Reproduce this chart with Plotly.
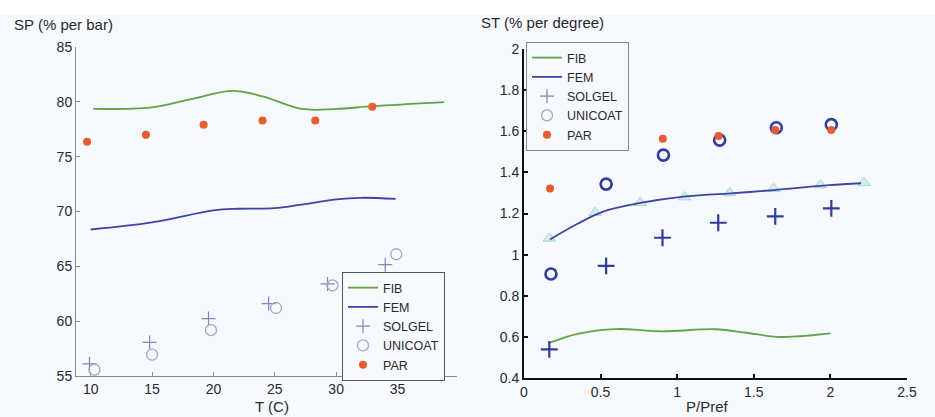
import plotly.graph_objects as go

W, H = 935, 417

# ---- Left panel: sensitivity to pressure vs temperature ----
sp_fib_t = [10.2, 15, 18, 21.6, 24, 27.2, 30, 33, 38.8]
sp_fib = [79.35, 79.5, 80.2, 81.0, 80.5, 79.35, 79.35, 79.6, 79.97]
sp_fem_t = [10.0, 15, 20, 22, 25, 27, 30, 32, 34.85]
sp_fem = [68.36, 69.0, 70.1, 70.25, 70.3, 70.6, 71.1, 71.25, 71.15]
sp_solgel_t = [9.9, 14.8, 19.6, 24.5, 29.3, 34.0]
sp_solgel = [56.1, 58.06, 60.24, 61.6, 63.4, 65.15]
sp_unicoat_t = [10.3, 15.0, 19.8, 25.1, 29.7, 34.9]
sp_unicoat = [55.57, 56.94, 59.18, 61.2, 63.27, 66.1]
sp_par_t = [9.7, 14.5, 19.2, 24.0, 28.3, 32.95]
sp_par = [76.36, 77.0, 77.9, 78.3, 78.3, 79.55]

# ---- Right panel: sensitivity to temperature vs normalised pressure ----
st_fib_p = [0.17, 0.35, 0.6, 0.9, 1.25, 1.45, 1.65, 1.8, 2.0]
st_fib = [0.572, 0.615, 0.638, 0.627, 0.637, 0.62, 0.60, 0.603, 0.617]
st_fem_p = [0.17, 0.35, 0.52, 0.75, 1.04, 1.35, 1.63, 1.99, 2.2]
st_fem = [1.074, 1.15, 1.21, 1.25, 1.282, 1.298, 1.314, 1.338, 1.347]
st_tri_p = [0.166, 0.464, 0.758, 1.048, 1.342, 1.63, 1.935, 2.22]
st_tri = [1.079, 1.204, 1.252, 1.28, 1.30, 1.32, 1.338, 1.35]
st_solgel_p = [0.165, 0.536, 0.904, 1.268, 1.64, 2.006]
st_solgel = [0.539, 0.945, 1.082, 1.155, 1.186, 1.225]
st_unicoat_p = [0.176, 0.536, 0.91, 1.277, 1.647, 2.006]
st_unicoat = [0.906, 1.343, 1.484, 1.557, 1.617, 1.632]
st_par_p = [0.17, 0.54, 0.906, 1.27, 1.64, 2.006]
st_par = [1.322, 1.525, 1.564, 1.577, 1.606, 1.606]

series_names = ["FIB", "FEM", "SOLGEL", "UNICOAT", "PAR"]

sp_ticks = [55, 60, 65, 70, 75, 80, 85]
t_ticks = [10, 15, 20, 25, 30, 35, 40]
st_ticks = [0.4, 0.6, 0.8, 1.0, 1.2, 1.4, 1.6, 1.8, 2.0]
st_labels = ["0.4", "0.6", "0.8", "1", "1.2", "1.4", "1.6", "1.8", "2"]
p_ticks = [0, 0.5, 1.0, 1.5, 2.0, 2.5]
p_labels = ["0", "0.5", "1", "1.5", "2", "2.5"]

GREEN = "#62a346"
BLUE = "#3b45a6"
ORANGE = "#ea5a2a"
DARKBLUE = "#2f3ca2"
BG = "#f6f9fd"
FONT = "Liberation Sans, Arial, sans-serif"

# styles shared by both legends (thin, light symbols)
light_styles = {
    "FIB": dict(mode="lines", line=dict(color=GREEN, width=1.8)),
    "FEM": dict(mode="lines", line=dict(color=BLUE, width=1.8)),
    "SOLGEL": dict(mode="markers", marker=dict(symbol="cross-thin", size=10,
                                               line=dict(color="#7f84c2", width=1.2))),
    "UNICOAT": dict(mode="markers", marker=dict(symbol="circle-open", size=11,
                                                color="#a4a6c8", line=dict(width=1.3))),
    "PAR": dict(mode="markers", marker=dict(symbol="circle", size=8, color=ORANGE)),
}

fig = go.Figure()

# left panel traces (also feed the left legend)
left_data = {
    "FIB": (sp_fib_t, sp_fib),
    "FEM": (sp_fem_t, sp_fem),
    "SOLGEL": (sp_solgel_t, sp_solgel),
    "UNICOAT": (sp_unicoat_t, sp_unicoat),
    "PAR": (sp_par_t, sp_par),
}
for name in series_names:
    xs, ys = left_data[name]
    style = dict(light_styles[name])
    if style["mode"] == "lines":
        style["line"] = dict(style["line"], shape="spline")
    fig.add_trace(go.Scatter(x=xs, y=ys, name=name, xaxis="x", yaxis="y",
                             legend="legend", **style))

# right panel traces
fig.add_trace(go.Scatter(x=st_tri_p, y=st_tri, mode="markers", showlegend=False,
                         marker=dict(symbol="triangle-up", size=11, color="#d6eeec",
                                     line=dict(color="#a6d6d4", width=1)),
                         xaxis="x2", yaxis="y2"))
fig.add_trace(go.Scatter(x=st_fib_p, y=st_fib, mode="lines", showlegend=False,
                         line=dict(color=GREEN, width=1.8, shape="spline"),
                         xaxis="x2", yaxis="y2"))
fig.add_trace(go.Scatter(x=st_fem_p, y=st_fem, mode="lines", showlegend=False,
                         line=dict(color=BLUE, width=1.8, shape="spline"),
                         xaxis="x2", yaxis="y2"))
fig.add_trace(go.Scatter(x=st_solgel_p, y=st_solgel, mode="markers", showlegend=False,
                         marker=dict(symbol="cross-thin", size=12,
                                     line=dict(color=DARKBLUE, width=2.2)),
                         xaxis="x2", yaxis="y2"))
fig.add_trace(go.Scatter(x=st_unicoat_p, y=st_unicoat, mode="markers", showlegend=False,
                         marker=dict(symbol="circle-open", size=11, color=DARKBLUE,
                                     line=dict(width=2.6)),
                         xaxis="x2", yaxis="y2"))
fig.add_trace(go.Scatter(x=st_par_p, y=st_par, mode="markers", showlegend=False,
                         marker=dict(symbol="circle", size=8, color=ORANGE),
                         xaxis="x2", yaxis="y2"))

# right legend entries (legend-only, light symbols)
for name in series_names:
    fig.add_trace(go.Scatter(x=[None], y=[None], name=name, xaxis="x2", yaxis="y2",
                             legend="legend2", **light_styles[name]))

tickfont = dict(family=FONT, size=14, color="#2a2a2a")
titlefont = dict(family=FONT, size=15, color="#2a2a2a")
legendfont = dict(family=FONT, size=12.5, color="#2a2a2a")

fig.update_layout(
    width=W, height=H,
    margin=dict(l=0, r=0, t=0, b=0, autoexpand=False),
    paper_bgcolor=BG, plot_bgcolor=BG,
    font=dict(family=FONT, size=13, color="#2a2a2a"),
    xaxis=dict(domain=[76 / W, 457 / W], range=[8.8, 39.85], tickvals=t_ticks,
               showgrid=False, zeroline=False, showline=True, linecolor="#8a8a8a",
               linewidth=1, ticks="inside", ticklen=4, tickcolor="#8a8a8a",
               tickfont=tickfont, ticklabelstandoff=0, anchor="y"),
    yaxis=dict(domain=[(H - 376) / H, (H - 47) / H], range=[55, 85], tickvals=sp_ticks,
               showgrid=False, zeroline=False, showline=True, linecolor="#8a8a8a",
               linewidth=1, ticks="inside", ticklen=4, tickcolor="#8a8a8a",
               tickfont=tickfont, anchor="x"),
    xaxis2=dict(domain=[524 / W, 907 / W], range=[0, 2.5], tickvals=p_ticks,
                ticktext=p_labels, showgrid=False, zeroline=False, showline=True,
                linecolor="#111111", linewidth=2, ticks="inside", ticklen=4,
                tickcolor="#111111", tickwidth=2, tickfont=tickfont,
                ticklabelstandoff=0, anchor="y2"),
    yaxis2=dict(domain=[(H - 378) / H, (H - 49) / H], range=[0.4, 2.0], tickvals=st_ticks,
                ticktext=st_labels, showgrid=False, zeroline=False, showline=True,
                linecolor="#111111", linewidth=2, ticks="inside", ticklen=4,
                tickcolor="#111111", tickwidth=2, tickfont=tickfont, anchor="x2"),
    legend=dict(x=342 / W, y=(H - 272) / H, xanchor="left", yanchor="top",
                bgcolor=BG, bordercolor="#555555", borderwidth=1,
                font=legendfont, tracegroupgap=0, itemwidth=30),
    legend2=dict(x=526 / W, y=(H - 42) / H, xanchor="left", yanchor="top",
                 bgcolor=BG, bordercolor="#888888", borderwidth=1,
                 font=legendfont, tracegroupgap=0, itemwidth=30),
    shapes=[dict(type="rect", xref="paper", yref="paper", x0=0, x1=1,
                 y0=(H - 15) / H, y1=1, fillcolor="white", line=dict(width=0),
                 layer="below")],
    annotations=[
        dict(text="SP (% per bar)", x=12 / W, y=(H - 25) / H, xref="paper", yref="paper",
             xanchor="left", yanchor="middle", showarrow=False, font=titlefont),
        dict(text="ST (% per degree)", x=479 / W, y=(H - 23) / H, xref="paper",
             yref="paper", xanchor="left", yanchor="middle", showarrow=False,
             font=titlefont),
        dict(text="T (C)", x=272 / W, y=(H - 406) / H, xref="paper", yref="paper",
             xanchor="center", yanchor="middle", showarrow=False, font=titlefont),
        dict(text="P/Pref", x=707 / W, y=(H - 406) / H, xref="paper", yref="paper",
             xanchor="center", yanchor="middle", showarrow=False, font=titlefont),
    ],
)

fig.write_html("out.html")
